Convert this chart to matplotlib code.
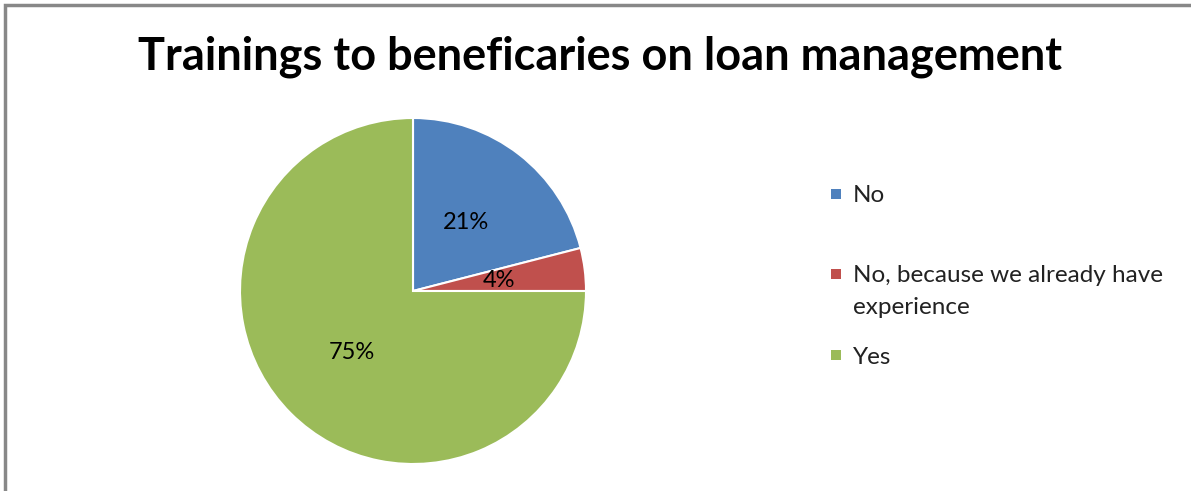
import matplotlib.pyplot as plt
from matplotlib.patches import Rectangle

labels = ['No', 'No, because we already have\nexperience', 'Yes']
values = [21, 4, 75]
colors = ['#4F81BD', '#C0504D', '#9BBB59']
legend_y = [194, 274, 355]  # pixel rows of the legend markers (from top)

plt.rcParams['font.family'] = ['Lato', 'DejaVu Sans']

fig = plt.figure(figsize=(11.91, 4.91), dpi=100)
W, H = 1191, 491

# frame
fig.add_artist(Rectangle((5 / W, -0.1), 1.2, (H - 5) / H + 0.1, transform=fig.transFigure,
                         fill=False, edgecolor='#888888', linewidth=2.5))

fig.text(600 / W, 1 - 57 / H, 'Trainings to beneficaries on loan management',
         ha='center', va='center', fontsize=32.5, fontweight='bold', color='black')

ax = fig.add_axes([240 / W, 27 / H, 346 / W, 346 / H])
wedges, texts, autotexts = ax.pie(values, colors=colors, startangle=90, counterclock=False,
                                  autopct='%d%%', pctdistance=0.5,
                                  wedgeprops=dict(edgecolor='white', linewidth=1.5),
                                  textprops=dict(fontsize=17, color='black'))
ax.set_xlim(-1, 1)
ax.set_ylim(-1, 1)
ax.set_aspect('equal')

# legend drawn by hand, wrapped lines 32 px apart
for lab, col, y in zip(labels, colors, legend_y):
    yy = 1 - y / H
    fig.add_artist(Rectangle((831 / W, yy - 5 / H), 10 / W, 10 / H, transform=fig.transFigure,
                             facecolor=col, edgecolor='none'))
    for i, line in enumerate(lab.split('\n')):
        fig.text(853 / W, yy - i * 32 / H, line, ha='left', va='center_baseline',
                 fontsize=17.5, color='#222222')

fig.savefig('out.png', dpi=100)
